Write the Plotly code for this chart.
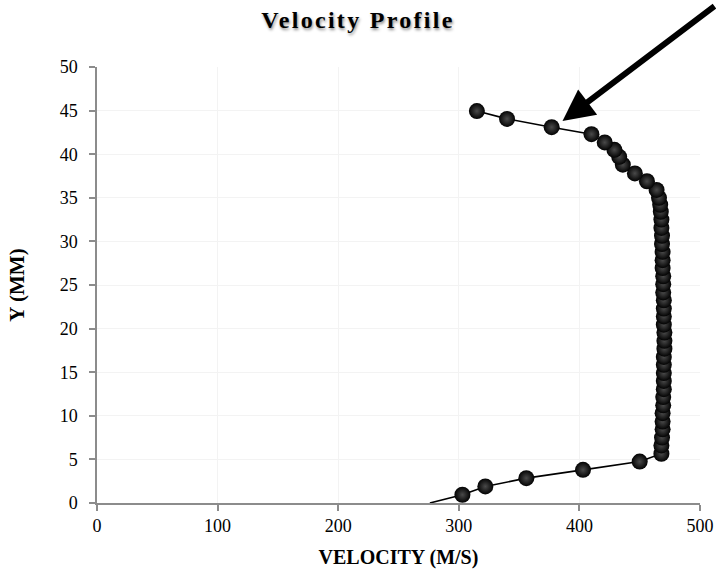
import plotly.graph_objects as go

velocity = [276, 303, 322, 356, 403, 450,
            468, 468, 468.5, 469, 469, 469, 469.5, 469.5, 470, 470, 470, 470, 470,
            470.5, 470.5, 470.5, 470, 470, 470, 470, 469.5, 469.5, 469.5, 469, 469,
            469, 468.5, 468.5, 468, 468, 467.5,
            467, 466, 464, 456, 446, 436, 433, 429, 421, 410, 377, 340, 315]
y_mm = [0, 0.95, 1.9, 2.85, 3.8, 4.75, 5.65, 6.6, 7.5, 8.45, 9.35, 10.3, 11.2,
        12.15, 13.05, 14.0, 14.9, 15.85, 16.75, 17.7, 18.6, 19.55, 20.45, 21.4,
        22.3, 23.25, 24.15, 25.1, 26.0, 26.95, 27.85, 28.8, 29.7, 30.65, 31.55,
        32.5, 33.4, 34.2, 35.0, 35.9, 36.9, 37.8, 38.8, 39.7, 40.5, 41.35, 42.3,
        43.1, 44.05, 44.95]

x_ticks = [0, 100, 200, 300, 400, 500]
y_ticks = [0, 5, 10, 15, 20, 25, 30, 35, 40, 45, 50]

arrow_tip = (386, 43.8)

SERIF = "Liberation Serif, Times New Roman, serif"

fig = go.Figure()
fig.add_trace(go.Scatter(
    x=velocity, y=y_mm, mode="lines",
    line=dict(color="black", width=1.6),
    hoverinfo="skip", showlegend=False,
))
fig.add_trace(go.Scatter(
    x=velocity[1:], y=y_mm[1:], mode="markers",
    marker=dict(size=16, color="#020202",
                gradient=dict(type="radial", color="#4a4a4a"),
                line=dict(width=0)),
    showlegend=False,
))

fig.add_annotation(
    x=arrow_tip[0], y=arrow_tip[1], xref="x", yref="y",
    ax=175, ay=-116, axref="pixel", ayref="pixel",
    text="", showarrow=True, arrowhead=2, arrowsize=1.05,
    arrowwidth=6, arrowcolor="black", standoff=0,
)

axis_common = dict(
    showline=True, linecolor="#8c8c8c", linewidth=1.5,
    ticks="outside", ticklen=6, tickcolor="#8c8c8c", tickwidth=1.5,
    showgrid=True, gridcolor="#f3f3f3", gridwidth=1,
    zeroline=False,
    tickfont=dict(family=SERIF, size=18, color="black"),
)

fig.update_xaxes(
    range=[0, 500], tickvals=x_ticks, ticktext=[str(v) for v in x_ticks],
    title=dict(text="<b>VELOCITY (M/S)</b>",
               font=dict(family=SERIF, size=20, color="black"), standoff=15),
    **axis_common,
)
fig.update_yaxes(
    range=[0, 50], tickvals=y_ticks, ticktext=[str(v) for v in y_ticks],
    title=dict(text="<b>Y (MM)</b>",
               font=dict(family=SERIF, size=21, color="black"), standoff=29),
    ticklabelstandoff=8,
    **axis_common,
)

fig.update_layout(
    width=716, height=571,
    margin=dict(l=97, r=16, t=67, b=68, autoexpand=False),
    paper_bgcolor="white", plot_bgcolor="white",
    title=dict(text="<b>Velocity Profile</b>", x=0.5, xanchor="center",
               y=0.965, yanchor="middle",
               font=dict(family=SERIF, size=24, color="black",
                         shadow="1px 2px 3px #8a8a8a")),
    showlegend=False,
)

post = """
document.body.style.margin = '0';
document.body.style.padding = '0';
var t = document.querySelector('.gtitle');
if (t) { t.style.letterSpacing = '2.3px'; }
"""
fig.write_html("out.html", post_script=post, config={"displayModeBar": False})
